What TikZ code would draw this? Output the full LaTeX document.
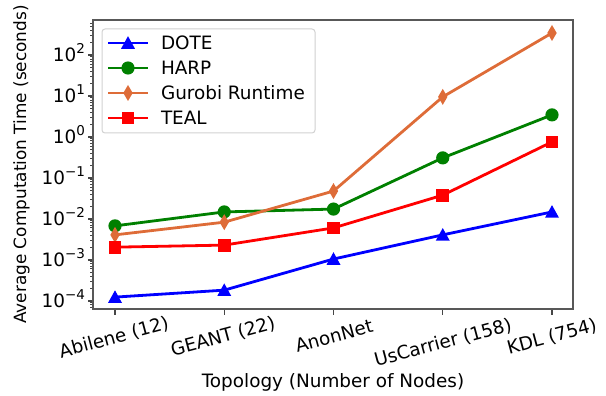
\documentclass[tikz,border=0pt]{standalone}
\usepackage{fontspec}
\setmainfont{DejaVu Sans}
\definecolor{dotec}{RGB}{0,0,255}
\definecolor{harpc}{RGB}{0,128,0}
\definecolor{gurc}{RGB}{222,108,56}
\definecolor{tealc}{RGB}{255,0,0}
\definecolor{spinec}{RGB}{88,88,88}
% exponent with a raised, smaller power
\newcommand\tenpow[1]{10\raisebox{8.2pt}{\fontsize{13.5}{14}\selectfont #1}}
\begin{document}
\begin{tikzpicture}[x=1pt,y=-1pt,
  every node/.style={inner sep=0pt,outer sep=0pt},
  lbl/.style={font=\fontsize{18.4}{22}\selectfont},
  spine/.style={draw=spinec,line width=2.2pt},
  majortick/.style={draw=spinec!80!black,line width=1.4pt},
  minortick/.style={draw=spinec!80!black,line width=1pt},
  series/.style={line width=2.8pt,line join=round},
  tri/.pic={\fill (0,-6.8) -- (7,5.8) -- (-7,5.8) -- cycle;},
  dot/.pic={\fill (0,0) circle (6.6);},
  sq/.pic={\fill (-6.4,-6.4) rectangle (6.4,6.4);},
  dia/.pic={\fill (0,-8) -- (4.7,0) -- (0,8) -- (-4.7,0) -- cycle;},
]
\useasboundingbox (0,0) rectangle (606,396);

% data points: x in px, y as log10(seconds)
\begin{scope}[shift={(0,137)},yscale=-40.95]
  \foreach \i/\v in {1/-3.91,2/-3.74,3/-2.98,4/-2.39,5/-1.83}
    \coordinate (dote\i) at ({115+109.25*(\i-1)},\v);
  \foreach \i/\v in {1/-2.17,2/-1.83,3/-1.76,4/-0.51,5/0.54}
    \coordinate (harp\i) at ({115+109.25*(\i-1)},\v);
  \foreach \i/\v in {1/-2.39,2/-2.08,3/-1.32,4/0.98,5/2.54}
    \coordinate (gur\i) at ({115+109.25*(\i-1)},\v);
  \foreach \i/\v in {1/-2.69,2/-2.64,3/-2.22,4/-1.42,5/-0.12}
    \coordinate (teal\i) at ({115+109.25*(\i-1)},\v);
\end{scope}

% y ticks (log scale)
\foreach \d in {-5,...,2}{
  \foreach \k in {2,...,9}{
    \pgfmathsetmacro\yy{137-40.95*(\d+log10(\k))}
    \pgfmathtruncatemacro\ok{(\yy>20.5 && \yy<308.5) ? 1 : 0}
    \ifnum\ok=1 \draw[minortick] (93,\yy) -- ++(-3.5,0); \fi
  }
}
\foreach \e/\s in {-4/−4,-3/−3,-2/−2,-1/−1,0/0,1/1,2/2}{
  \pgfmathsetmacro\yy{137-40.95*\e}
  \draw[majortick] (93,\yy) -- ++(-5.5,0);
  \node[lbl,anchor=base east] (ytick\s) at (85,\yy+6.5) {\tenpow{\s}};
}

% x ticks and rotated category labels
\foreach \i in {1,...,5}
  \draw[majortick] ({115+109.25*(\i-1)},309) -- ++(0,5.5);
\node[lbl,rotate=15] (xt1) at (114,338) {Abilene (12)};
\node[lbl,rotate=15] (xt2) at (223,337) {GEANT (22)};
\node[lbl,rotate=15] (xt3) at (334,336) {AnonNet};
\node[lbl,rotate=15] (xt4) at (443,343) {UsCarrier (158)};
\node[lbl,rotate=15] (xt5) at (552,337) {KDL (754)};

% axis titles
\node[lbl,anchor=base] (xtitle) at (333,387.5) {Topology (Number of Nodes)};
\node[font=\fontsize{16.9}{20}\selectfont,rotate=90] (ytitle) at (21.5,164.5) {Average Computation Time (seconds)};

% series: line first, markers on top
\draw[series,dotec] (dote1) -- (dote2) -- (dote3) -- (dote4) -- (dote5);
\foreach \i in {1,...,5} \pic[dotec] at (dote\i) {tri};
\draw[series,harpc] (harp1) -- (harp2) -- (harp3) -- (harp4) -- (harp5);
\foreach \i in {1,...,5} \pic[harpc] at (harp\i) {dot};
\draw[series,gurc] (gur1) -- (gur2) -- (gur3) -- (gur4) -- (gur5);
\foreach \i in {1,...,5} \pic[gurc] at (gur\i) {dia};
\draw[series,tealc] (teal1) -- (teal2) -- (teal3) -- (teal4) -- (teal5);
\foreach \i in {1,...,5} \pic[tealc] at (teal\i) {sq};

% plot frame
\draw[spine] (93,20) rectangle (573,309);

% legend
\draw[rounded corners=3pt,draw=black!18,line width=1pt,fill=white] (102,29) rectangle (315,133);
\foreach \y/\c/\m/\t [count=\j] in {43/dotec/tri/DOTE,68/harpc/dot/HARP,93/gurc/dia/Gurobi Runtime,118/tealc/sq/TEAL}{
  \coordinate (lga\j) at (108,\y);
  \coordinate (lgb\j) at (148,\y);
  \draw[series,\c] (lga\j) -- (lgb\j);
  \pic[\c] at (128,\y) {\m};
  \node[lbl,anchor=base west] (lgt\j) at (161,\y+6.7) {\t};
}
\end{tikzpicture}
\end{document}
